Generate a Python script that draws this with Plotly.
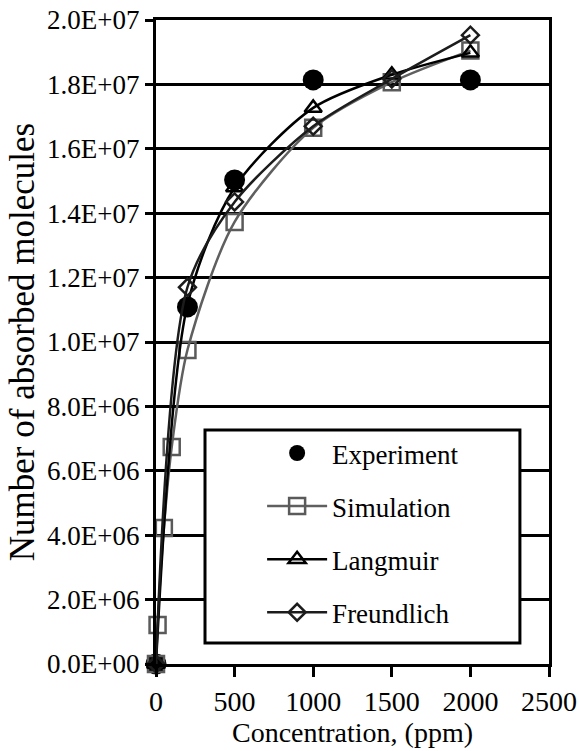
import plotly.graph_objects as go

# Adsorption isotherm: measured, simulated and fitted model values
exp_conc = [0, 200, 500, 1000, 2000]
exp_molecules = [0, 1.109e7, 1.503e7, 1.814e7, 1.814e7]

sim_conc = [0, 10, 50, 100, 200, 500, 1000, 1500, 2000]
sim_molecules = [0, 1.21e6, 4.22e6, 6.74e6, 9.75e6, 1.373e7, 1.665e7, 1.807e7, 1.905e7]

lang_conc = [0, 200, 500, 1000, 1500, 2000]
lang_molecules = [0, 1.115e7, 1.48e7, 1.727e7, 1.83e7, 1.898e7]

freu_conc = [0, 200, 500, 1000, 1500, 2000]
freu_molecules = [0, 1.17e7, 1.435e7, 1.67e7, 1.817e7, 1.953e7]

x_ticks = [0, 500, 1000, 1500, 2000, 2500]
y_ticks = [0, 2e6, 4e6, 6e6, 8e6, 1e7, 1.2e7, 1.4e7, 1.6e7, 1.8e7, 2e7]
y_tick_labels = ["{:.1E}".format(v) for v in y_ticks]

FONT = "Liberation Serif"

fig = go.Figure()

fig.add_trace(go.Scatter(
    x=exp_conc, y=exp_molecules, name="Experiment", mode="markers",
    marker=dict(symbol="circle", size=21, color="black"),
    cliponaxis=False, legendgroup="a",
))
fig.add_trace(go.Scatter(
    x=sim_conc, y=sim_molecules, name="Simulation", mode="lines+markers",
    line=dict(color="#5f5f5f", width=2.5, shape="spline", smoothing=0.8),
    marker=dict(symbol="square-open", size=16, color="#5a5a5a",
                line=dict(width=2.5, color="#5a5a5a")),
    cliponaxis=False, legendgroup="b",
))
fig.add_trace(go.Scatter(
    x=lang_conc, y=lang_molecules, name="Langmuir", mode="lines+markers",
    line=dict(color="black", width=2.5, shape="spline", smoothing=0.8),
    marker=dict(symbol="triangle-up-open", size=15, color="black",
                line=dict(width=2.5, color="black")),
    cliponaxis=False, legendgroup="c",
))
fig.add_trace(go.Scatter(
    x=freu_conc, y=freu_molecules, name="Freundlich", mode="lines+markers",
    line=dict(color="#1c1c1c", width=2.5, shape="spline", smoothing=0.8),
    marker=dict(symbol="diamond-open", size=13, color="#1c1c1c",
                line=dict(width=2.5, color="#1c1c1c")),
    cliponaxis=False, legendgroup="d",
))

# Legend frame
fig.add_shape(
    type="rect", xref="paper", yref="paper",
    x0=0.1247, x1=0.926, y0=0.0326, y1=0.3634,
    line=dict(color="black", width=3), fillcolor="white", layer="above",
)

fig.update_layout(
    width=579, height=751,
    margin=dict(l=156, r=30, t=20, b=87),
    paper_bgcolor="white", plot_bgcolor="white",
    font=dict(family=FONT, size=27, color="black"),
    showlegend=True,
    legend=dict(
        x=0.27, y=0.365, xanchor="left", yanchor="top",
        bgcolor="rgba(0,0,0,0)", borderwidth=0,
        font=dict(family=FONT, size=27, color="black"),
        itemwidth=60, tracegroupgap=15, traceorder="grouped",
    ),
    xaxis=dict(
        range=[0, 2500], tickvals=x_ticks, ticks="outside", ticklen=10,
        tickwidth=3, tickcolor="black", showline=True, linewidth=3,
        linecolor="black", mirror=True, showgrid=False, zeroline=False,
        automargin=False,
        tickfont=dict(family=FONT, size=28),
        title=dict(text="Concentration, (ppm)", standoff=2,
                   font=dict(family=FONT, size=28)),
    ),
    yaxis=dict(
        range=[0, 2e7], tickvals=y_ticks, ticktext=y_tick_labels,
        ticks="outside", ticklen=8, tickwidth=3, tickcolor="black",
        showline=True, linewidth=3, linecolor="black", mirror=True,
        showgrid=True, gridcolor="black", gridwidth=2.5, zeroline=False,
        automargin=False,
        tickfont=dict(family=FONT, size=27),
        title=dict(text="Number of absorbed molecules", standoff=2,
                   font=dict(family=FONT, size=35)),
    ),
)

fig.write_html("out.html")
